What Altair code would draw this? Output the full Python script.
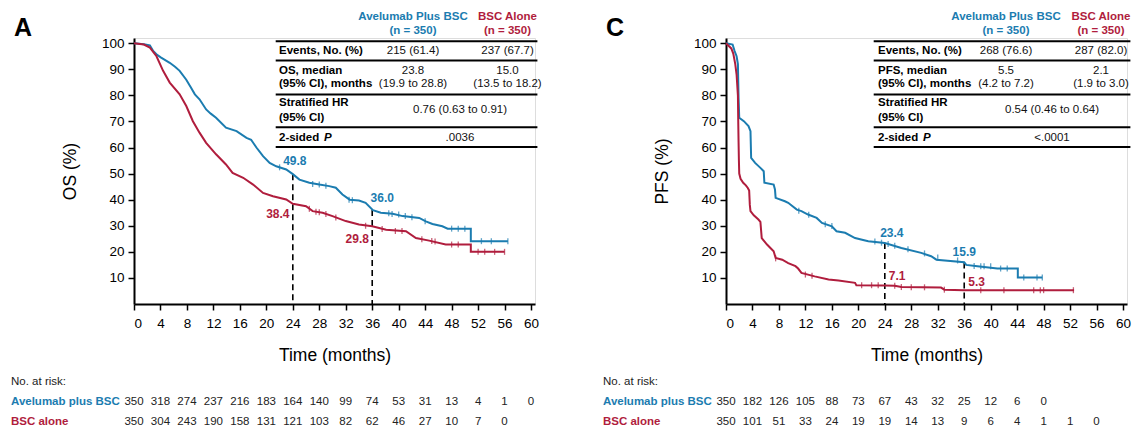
import altair as alt
import pandas as pd

# ------------------------------------------------------------------ data
x_ticks = list(range(0, 61, 4))
y_ticks = list(range(10, 101, 10))
groups = ["Avelumab plus BSC", "BSC alone"]

# OS curves (months, % alive)
os_avel_t = [0, 1.5, 2.4, 2.9, 3.5, 4.1, 5.4, 6.2, 6.9, 7.9, 8.6, 9.2, 9.9, 10.9, 11.6, 12.4, 13.9, 15.5,
             17.0, 17.7, 18.5, 19.5, 20.5, 21.5, 23.0, 24.0, 25.0, 26.5, 28.0, 29.5, 30.5, 31.5, 32.6, 34.0,
             35.0, 36.1, 37.3, 39.1, 40.6, 43.1, 44.1, 45.1, 46.6, 47.4, 50.9, 50.9, 56.5]
os_avel_s = [100, 99.6, 99.2, 97, 95.5, 94.5, 92.5, 91, 89.4, 86, 83, 80.4, 78.5, 74.6, 73, 71.4, 67.6, 66.3,
             63.7, 63.0, 60.0, 56.7, 54.1, 52.8, 51.6, 49.8, 47.7, 46.5, 45.8, 45.2, 44.6, 42.0, 40.0, 39.7,
             38.8, 36.0, 35.0, 34.6, 33.7, 33.0, 31.7, 30.7, 29.8, 28.9, 28.9, 24.1, 24.1]
os_bsc_t = [0, 1.5, 2.4, 3.4, 4.4, 5.4, 6.9, 7.9, 8.9, 9.9, 10.9, 12.4, 13.9, 14.9, 16.5, 18.0, 19.5, 21.0,
            23.0, 24.0, 26.0, 27.0, 28.5, 30.0, 32.0, 34.0, 36.0, 38.1, 41.1, 42.6, 44.6, 47.1, 50.9, 50.9, 56.0]
os_bsc_s = [100, 99.5, 98.3, 95, 89.4, 84.9, 80.4, 75.9, 70.1, 65.7, 61.8, 57.4, 53.5, 50.3, 48.4, 45.8, 42.6, 41.3,
            40.1, 38.4, 37.5, 35.6, 35.0, 33.7, 31.8, 30.5, 29.8, 28.5, 27.9, 25.3, 24.3, 22.8, 22.8, 20.0, 20.0]

# PFS curves
pfs_avel_t = [0, 1.0, 1.3, 1.6, 1.8, 1.9, 2.0, 2.7, 3.4, 3.7, 3.8, 4.4, 5.2, 5.7, 5.8, 7.2, 7.4, 7.5, 8.9,
              9.4, 10.7, 11.4, 12.4, 13.7, 14.5, 16.0, 16.7, 18.0, 19.5, 21.5, 24.0, 26.5, 29.5, 31.0, 31.8,
              36.0, 36.3, 38.0, 41.0, 44.1, 44.1, 47.8]
pfs_avel_s = [100, 99.5, 97, 95, 92, 79, 71.4, 70.1, 68.2, 66.3, 56.0, 54.1, 52.2, 50.9, 46.5, 45.8, 43.9,
              40.7, 39.4, 38.8, 36.2, 35.6, 34.3, 33.0, 31.1, 29.8, 27.9, 27.3, 25.3, 24.1, 23.4, 21.5, 19.6,
              18.3, 17.0, 16.0, 15.0, 14.5, 13.6, 13.6, 10.2, 10.2]
pfs_bsc_t = [0, 0.8, 1.1, 1.4, 1.6, 1.8, 1.85, 1.9, 1.95, 2.0, 2.2, 2.6, 3.0, 3.3, 3.5, 3.6, 3.7, 4.2, 4.9,
             5.2, 5.4, 6.2, 7.2, 7.5, 8.5, 9.4, 10.5, 10.9, 11.4, 13.4, 15.5, 17.0, 19.5, 19.7, 24.0, 25.5,
             26.5, 32.5, 33.0, 36.0, 52.6]
pfs_bsc_s = [100, 98, 96, 92, 88, 80, 70, 62, 55, 50, 48, 46.5, 45.5, 44.5, 43.5, 38, 35.6, 34, 32.4,
             31.5, 25.3, 22.8, 20.2, 17.7, 17.0, 15.7, 14.5, 13.6, 11.9, 10.6, 9.4, 9.0, 8.1, 7.2, 7.1, 7.0,
             6.5, 6.3, 5.5, 5.3, 5.3]

# censoring marks (months, %)
os_avel_cens_t = [22, 27, 28, 29, 32.5, 33, 38.5, 39, 40, 41, 42, 44, 48, 49, 50, 52.5, 54, 56.5]
os_avel_cens_s = [52.4, 46, 45.8, 45.3, 40, 39.8, 34.8, 34.5, 34.3, 33.7, 33.3, 31.7, 28.9, 28.9, 28.9, 24.1, 24.1, 24.1]
os_bsc_cens_t = [26.5, 27.5, 28, 29, 30.5, 35, 37.5, 39.5, 40.5, 43.5, 45, 45.5, 48, 49, 52, 53, 54.5, 56]
os_bsc_cens_s = [36.5, 35.4, 35.2, 34.5, 33.2, 30.0, 28.8, 28.0, 28.0, 24.8, 24.2, 24.0, 22.8, 22.8, 20, 20, 20, 20]
pfs_avel_cens_t = [11, 12.5, 15, 16, 22.5, 23.5, 24.5, 25.5, 27.5, 30, 32, 35, 37.5, 38.5, 39, 40, 41.5, 42.5, 45, 47, 47.8]
pfs_avel_cens_s = [35.8, 34.2, 30.6, 29.9, 24, 23.5, 23, 22.3, 21, 19.4, 17.8, 16.7, 14.6, 14.5, 14.5, 14.5, 13.6, 13.6, 10.2, 10.2, 10.2]
pfs_bsc_cens_t = [7.5, 12, 13, 20.5, 22, 23, 25.5, 26.5, 28, 30, 33, 38.5, 42, 46.5, 47.5, 48, 52.5]
pfs_bsc_cens_s = [17.5, 11.3, 10.8, 7.2, 7.2, 7.2, 7.0, 6.5, 6.4, 6.4, 5.5, 5.3, 5.3, 5.3, 5.3, 5.3, 5.3]

# numbers at risk
os_risk_avel = [350, 318, 274, 237, 216, 183, 164, 140, 99, 74, 53, 31, 13, 4, 1, 0]
os_risk_bsc = [350, 304, 243, 190, 158, 131, 121, 103, 82, 62, 46, 27, 10, 7, 0]
pfs_risk_avel = [350, 182, 126, 105, 88, 73, 67, 43, 32, 25, 12, 6, 0]
pfs_risk_bsc = [350, 101, 51, 33, 24, 19, 19, 14, 13, 9, 6, 4, 1, 1, 0]

# landmark estimates
landmark_months = [24, 36]
os_land_avel = [49.8, 36.0]
os_land_bsc = [38.4, 29.8]
pfs_land_avel = [23.4, 15.9]
pfs_land_bsc = [7.1, 5.3]

# summary tables
header_avel = ["Avelumab Plus BSC", "(n = 350)"]
header_bsc = ["BSC Alone", "(n = 350)"]
row_labels_os = ["Events, No. (%)", "OS, median", "(95% CI), months", "Stratified HR", "(95% CI)", "2-sided"]
row_labels_pfs = ["Events, No. (%)", "PFS, median", "(95% CI), months", "Stratified HR", "(95% CI)", "2-sided"]
os_col_avel = ["215 (61.4)", "23.8", "(19.9 to 28.8)"]
os_col_bsc = ["237 (67.7)", "15.0", "(13.5 to 18.2)"]
os_merged = ["0.76 (0.63 to 0.91)", ".0036"]
pfs_col_avel = ["268 (76.6)", "5.5", "(4.2 to 7.2)"]
pfs_col_bsc = ["287 (82.0)", "2.1", "(1.9 to 3.0)"]
pfs_merged = ["0.54 (0.46 to 0.64)", "<.0001"]

# ------------------------------------------------------------------ style
BLUE = "#1b7cb0"
RED = "#b01d3d"
BLUE_T = "#2889c2"
RED_T = "#bd2140"
FONT = "Liberation Sans"
W, H = 401, 266

color_scale = alt.Scale(domain=groups, range=[BLUE, RED])


def panel(letter, ytitle, curves, censors, risks, lands, labels, cols_a, cols_b, merged, lay):
    X = alt.X("t:Q", scale=alt.Scale(domain=[0, 60.6], nice=False, zero=False),
              axis=alt.Axis(values=x_ticks, title="Time (months)"))
    Y = alt.Y("s:Q", scale=alt.Scale(domain=[0, 102], nice=False),
              axis=alt.Axis(values=y_ticks, title=ytitle))
    C = alt.Color("grp:N", scale=color_scale, legend=None)

    crv = pd.concat([pd.DataFrame({"t": t, "s": s, "grp": g}) for (t, s), g in zip(curves, groups)])
    cen = pd.concat([pd.DataFrame({"t": t, "s": s, "grp": g}) for (t, s), g in zip(censors, groups)])

    lines = alt.Chart(crv).mark_line(strokeWidth=2, interpolate="linear").encode(x=X, y=Y, color=C, detail="grp:N")
    ticks = alt.Chart(cen).mark_tick(orient="vertical", size=6, thickness=1.3).encode(x=X, y=Y, color=C)

    land_df = pd.DataFrame({"t": landmark_months * 2,
                            "s": list(lands[0]) + list(lands[1]),
                            "grp": [groups[0]] * 2 + [groups[1]] * 2})
    top = land_df.groupby("t", as_index=False)["s"].max()
    dashes = alt.Chart(top).mark_rule(color="black", strokeWidth=1.6, strokeDash=[6, 4]).encode(
        x=X, y=Y, y2=alt.Y2(datum=0))

    layers = [dashes, lines, ticks]

    # landmark labels
    for i, (dx, dy, al) in enumerate(lay["land_off"]):
        row = land_df.iloc[[i]].copy()
        row["lab"] = row["s"].map(lambda v: f"{v:.1f}")
        layers.append(alt.Chart(row).mark_text(fontSize=12, fontWeight="bold", dx=dx, dy=dy, align=al,
                                               baseline="middle", font=FONT).encode(x=X, y=Y, text="lab:N", color=C))

    # numbers at risk
    for r, (risk, g, yy) in enumerate(zip(risks, groups, [lay["risk_y"][1], lay["risk_y"][2]])):
        df = pd.DataFrame({"t": x_ticks[:len(risk)], "n": [str(v) for v in risk]})
        layers.append(alt.Chart(df).mark_text(fontSize=11.5, color="#222", baseline="middle", font=FONT).encode(
            x=X, y=alt.value(yy), text="n:N"))
    lab_df = pd.DataFrame({"txt": ["No. at risk:"] + groups, "grp": ["none"] + groups,
                           "py": lay["risk_y"]})
    layers.append(alt.Chart(lab_df.iloc[:1]).mark_text(fontSize=11.5, color="#222", align="left", baseline="middle",
                                                       font=FONT).encode(
        x=alt.value(lay["risk_x"]), y=alt.Y("py:Q", scale=None, axis=None), text="txt:N"))
    layers.append(alt.Chart(lab_df.iloc[1:]).mark_text(fontSize=11.5, fontWeight="bold", align="left",
                                                       baseline="middle", font=FONT).encode(
        x=alt.value(lay["risk_x"]), y=alt.Y("py:Q", scale=None, axis=None), text="txt:N",
        color=alt.Color("grp:N", scale=alt.Scale(domain=groups, range=[BLUE_T, RED_T]), legend=None)))

    # panel letter
    layers.append(alt.Chart(pd.DataFrame({"txt": [letter]})).mark_text(
        fontSize=25, fontWeight="bold", align="left", baseline="alphabetic", font=FONT, color="black").encode(
        x=alt.value(lay["letter"][0]), y=alt.value(lay["letter"][1]), text="txt:N"))

    # summary table
    tx = lay["tab"]
    ry = lay["rule_y"]
    rules = pd.DataFrame({"x1": [tx["x1"]] * len(ry), "x2": [tx["x2"]] * len(ry), "y": ry})
    layers.append(alt.Chart(rules).mark_rule(color="black", strokeWidth=2).encode(
        x=alt.X("x1:Q", scale=None, axis=None), x2="x2:Q", y=alt.Y("y:Q", scale=None, axis=None)))
    hy = lay["head_y"]
    head = pd.DataFrame({"txt": header_avel + header_bsc,
                         "px": [tx["c1"]] * 2 + [tx["c2"]] * 2,
                         "py": hy + hy,
                         "grp": [groups[0]] * 2 + [groups[1]] * 2})
    layers.append(alt.Chart(head).mark_text(fontSize=11.5, fontWeight="bold", baseline="middle", font=FONT).encode(
        x=alt.X("px:Q", scale=None, axis=None), y=alt.Y("py:Q", scale=None, axis=None), text="txt:N",
        color=alt.Color("grp:N", scale=alt.Scale(domain=groups, range=[BLUE_T, RED_T]), legend=None)))
    rowy = lay["row_y"]
    lab = pd.DataFrame({"txt": labels, "px": [tx["lx"]] * len(labels), "py": rowy})
    layers.append(alt.Chart(lab).mark_text(fontSize=11.5, fontWeight="bold", align="left", baseline="middle",
                                           font=FONT, color="black").encode(
        x=alt.X("px:Q", scale=None, axis=None), y=alt.Y("py:Q", scale=None, axis=None), text="txt:N"))
    layers.append(alt.Chart(pd.DataFrame({"txt": ["P"]})).mark_text(
        fontSize=11.5, fontWeight="bold", fontStyle="italic", align="left", baseline="middle", font=FONT,
        color="black").encode(x=alt.value(tx["lx"] + 45), y=alt.value(rowy[5]), text="txt:N"))
    vals = pd.DataFrame({"txt": cols_a + cols_b + merged,
                         "px": [tx["c1"]] * 3 + [tx["c2"]] * 3 + [tx["cm"]] * 2,
                         "py": [rowy[0], rowy[1], rowy[2]] * 2 + [lay["hr_y"], rowy[5]]})
    layers.append(alt.Chart(vals).mark_text(fontSize=11.5, baseline="middle", font=FONT, color="#111").encode(
        x=alt.X("px:Q", scale=None, axis=None), y=alt.Y("py:Q", scale=None, axis=None), text="txt:N"))

    return alt.layer(*layers).properties(width=W, height=H)


common = dict(
    risk_y=[344, 363.5, 383.5],
    risk_x=-123,
    letter=(-120, -2.5),
    rule_y=[3.3, 22.6, 56.6, 89.3, 109],
    head_y=[-20.7, -6.7],
    row_y=[12.8, 32.6, 46, 65, 80, 99.5],
    hr_y=71.8,
)
lay_os = dict(common, tab=dict(x1=141.7, x2=403.4, lx=145, c1=279, c2=373.5, cm=326),
              land_off=[(2, -13, "center"), (10, -12, "center"), (-15, 10, "center"), (-15, 13, "center")])
lay_pfs = dict(common, tab=dict(x1=147.7, x2=404.4, lx=152, c1=280, c2=375, cm=326),
               land_off=[(7, -10, "center"), (0, -11, "center"), (4, -9, "left"), (4, -8, "left")])

left = panel("A", "OS (%)",
             [(os_avel_t, os_avel_s), (os_bsc_t, os_bsc_s)],
             [(os_avel_cens_t, os_avel_cens_s), (os_bsc_cens_t, os_bsc_cens_s)],
             [os_risk_avel, os_risk_bsc], [os_land_avel, os_land_bsc],
             row_labels_os, os_col_avel, os_col_bsc, os_merged, lay_os)
right = panel("C", "PFS (%)",
              [(pfs_avel_t, pfs_avel_s), (pfs_bsc_t, pfs_bsc_s)],
              [(pfs_avel_cens_t, pfs_avel_cens_s), (pfs_bsc_cens_t, pfs_bsc_cens_s)],
              [pfs_risk_avel, pfs_risk_bsc], [pfs_land_avel, pfs_land_bsc],
              row_labels_pfs, pfs_col_avel, pfs_col_bsc, pfs_merged, lay_pfs)

chart = alt.hconcat(left, right, spacing=59).properties(
    padding={"left": 10, "top": 10, "right": 0, "bottom": 0}
).configure_view(stroke=None).configure(font=FONT).configure_axis(
    grid=False, domainColor="black", domainWidth=2, tickColor="black", tickWidth=1.5, tickSize=6,
    labelFontSize=13.5, labelColor="black", labelFont=FONT, labelPadding=5,
    titleFont=FONT, titleFontSize=17.5, titleFontWeight="normal", titleColor="black"
).configure_axisX(titlePadding=17, labelPadding=6).configure_axisY(titlePadding=22, labelPadding=4)

chart.save("out.html", embed_options={"renderer": "svg", "actions": False})
